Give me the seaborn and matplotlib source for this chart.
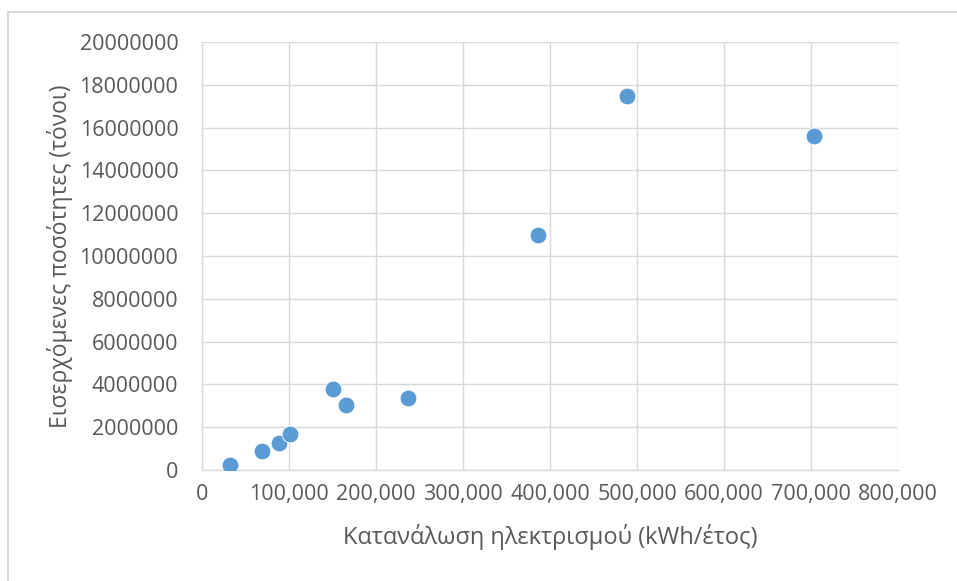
import matplotlib
matplotlib.use("Agg")
import matplotlib.pyplot as plt
from matplotlib.ticker import FuncFormatter, MultipleLocator
from matplotlib.patches import Rectangle
import seaborn as sns
import pandas as pd

# Electricity consumption vs incoming quantities
consumption_kwh = [31900, 69500, 88500, 101400, 150000, 165900, 237200, 386200, 489000, 703400]
incoming_tonnes = [234000, 909000, 1260000, 1686000, 3780000, 3060000, 3370000, 10970000, 17480000, 15600000]

x_label = "Κατανάλωση ηλεκτρισμού (kWh/έτος)"
y_label = "Εισερχόμενες ποσότητες (τόνοι)"

df = pd.DataFrame({"x": consumption_kwh, "y": incoming_tonnes})

sns.set_theme(style="whitegrid")
plt.rcParams["font.family"] = ["Open Sans", "DejaVu Sans"]

text_color = "#595959"
grid_color = "#d9d9d9"

fig = plt.figure(figsize=(9.57, 5.81), dpi=100)
ax = fig.add_axes([202 / 957, 1 - 470 / 581, (898 - 202) / 957, (470 - 42) / 581])

sns.scatterplot(data=df, x="x", y="y", ax=ax, color="#5B9BD5", s=145,
                edgecolor="white", linewidth=0.6, zorder=3, legend=False)

ax.set_xlim(0, 800000)
ax.set_ylim(0, 20000000)
ax.xaxis.set_major_locator(MultipleLocator(100000))
ax.yaxis.set_major_locator(MultipleLocator(2000000))
ax.xaxis.set_major_formatter(FuncFormatter(lambda v, p: f"{v:,.0f}"))
ax.yaxis.set_major_formatter(FuncFormatter(lambda v, p: f"{v:.0f}"))

ax.grid(True, color=grid_color, linewidth=1.0)
ax.set_axisbelow(True)
for side in ["top", "right"]:
    ax.spines[side].set_visible(False)
for side in ["left", "bottom"]:
    ax.spines[side].set_color(grid_color)
    ax.spines[side].set_linewidth(1.0)

ax.tick_params(axis="both", length=0, labelsize=15.5, labelcolor=text_color)
ax.tick_params(axis="x", pad=10)
ax.tick_params(axis="y", pad=17)

ax.set_xlabel(x_label, fontsize=17, color=text_color, labelpad=14)
ax.set_ylabel(y_label, fontsize=16.5, color=text_color, labelpad=5)

# chart frame (top and left edges)
fig.patches.append(Rectangle((8 / 957, -0.1), 2.0, 1.1 - 12 / 581, transform=fig.transFigure,
                             fill=False, edgecolor=grid_color, linewidth=1.5, zorder=0))

fig.savefig("out.png", dpi=100, facecolor="white")
